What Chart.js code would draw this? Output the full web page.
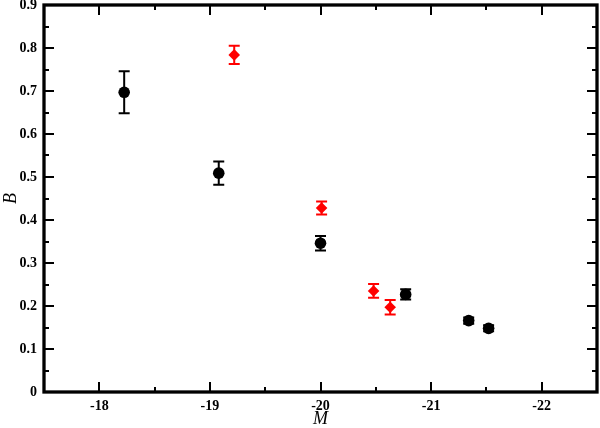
<!DOCTYPE html>
<html>
<head>
<meta charset="utf-8">
<script src="https://cdn.jsdelivr.net/npm/chart.js@4/dist/chart.umd.min.js"></script>
<style>
  html, body { margin: 0; padding: 0; background: #fff; }
  #wrap { width: 600px; height: 428px; }
</style>
</head>
<body>
<div id="wrap"><canvas id="c" width="600" height="428"></canvas></div>
<script>
// ---- Data ----
const blackM    = [-18.225, -19.08, -20.00, -20.77, -21.34, -21.52];
const blackB    = [0.697, 0.509, 0.346, 0.227, 0.166, 0.148];
const blackErr  = [0.049, 0.027, 0.017, 0.012, 0.007, 0.007];

const redM      = [-19.22, -20.01, -20.48, -20.63];
const redB      = [0.784, 0.428, 0.235, 0.197];
const redErr    = [0.021, 0.015, 0.016, 0.017];

const xTickValues = [-22, -21, -20, -19, -18];
const xTickLabels = ['-22', '-21', '-20', '-19', '-18'];
const xMinorValues = [-22.5, -21.5, -20.5, -19.5, -18.5, -17.5];
const yTickValues = [0, 0.1, 0.2, 0.3, 0.4, 0.5, 0.6, 0.7, 0.8, 0.9];
const yTickLabels = ['0', '0.1', '0.2', '0.3', '0.4', '0.5', '0.6', '0.7', '0.8', '0.9'];
const yMinorValues = [0.05, 0.15, 0.25, 0.35, 0.45, 0.55, 0.65, 0.75, 0.85];

const toPts = (xs, ys, es) => xs.map((x, i) => ({ x: x, y: ys[i], e: es[i] }));

const tickFont = { family: '"Liberation Serif", "Times New Roman", serif', size: 14, weight: 'bold' };
const titleFont = { family: '"Liberation Serif", "Times New Roman", serif', size: 18, style: 'italic', lineHeight: 1 };

const errorBarPlugin = {
  id: 'errorBars',
  beforeDatasetsDraw(chart) {
    const ctx = chart.ctx;
    const xs = chart.scales.x, ys = chart.scales.y;
    chart.data.datasets.forEach((ds) => {
      ctx.save();
      ctx.strokeStyle = ds.borderColor;
      ctx.lineWidth = 2;
      ds.data.forEach((p) => {
        const px = xs.getPixelForValue(p.x);
        const top = ys.getPixelForValue(p.y + p.e);
        const bot = ys.getPixelForValue(p.y - p.e);
        const cap = 5.5;
        ctx.beginPath();
        ctx.moveTo(px, top); ctx.lineTo(px, bot);
        ctx.moveTo(px - cap, top); ctx.lineTo(px + cap, top);
        ctx.moveTo(px - cap, bot); ctx.lineTo(px + cap, bot);
        ctx.stroke();
      });
      ctx.restore();
    });
  }
};

const frameTicksPlugin = {
  id: 'frameTicks',
  afterDraw(chart) {
    const ctx = chart.ctx;
    const a = chart.chartArea;
    const xs = chart.scales.x, ys = chart.scales.y;
    ctx.save();
    ctx.strokeStyle = '#000';
    ctx.lineWidth = 2;
    ctx.beginPath();
    const major = 10, minor = 5;
    xTickValues.forEach(v => {
      const px = Math.round(xs.getPixelForValue(v));
      ctx.moveTo(px, a.bottom); ctx.lineTo(px, a.bottom - major);
      ctx.moveTo(px, a.top); ctx.lineTo(px, a.top + major);
    });
    xMinorValues.forEach(v => {
      const px = Math.round(xs.getPixelForValue(v));
      ctx.moveTo(px, a.bottom); ctx.lineTo(px, a.bottom - minor);
      ctx.moveTo(px, a.top); ctx.lineTo(px, a.top + minor);
    });
    yTickValues.forEach(v => {
      const py = Math.round(ys.getPixelForValue(v));
      ctx.moveTo(a.left, py); ctx.lineTo(a.left + major, py);
      ctx.moveTo(a.right, py); ctx.lineTo(a.right - major, py);
    });
    yMinorValues.forEach(v => {
      const py = Math.round(ys.getPixelForValue(v));
      ctx.moveTo(a.left, py); ctx.lineTo(a.left + minor, py);
      ctx.moveTo(a.right, py); ctx.lineTo(a.right - minor, py);
    });
    ctx.stroke();
    ctx.lineWidth = 3.3;
    ctx.strokeRect(a.left, a.top, a.right - a.left, a.bottom - a.top);
    ctx.restore();
  }
};

new Chart(document.getElementById('c'), {
  type: 'scatter',
  data: {
    datasets: [
      {
        label: 'black',
        data: toPts(blackM, blackB, blackErr),
        pointStyle: 'circle',
        pointRadius: 5.8,
        pointHoverRadius: 5.8,
        backgroundColor: '#000',
        borderColor: '#000',
        borderWidth: 0
      },
      {
        label: 'red',
        data: toPts(redM, redB, redErr),
        pointStyle: 'rectRot',
        pointRadius: 5.8,
        pointHoverRadius: 5.8,
        backgroundColor: '#ff0000',
        borderColor: '#ff0000',
        borderWidth: 0
      }
    ]
  },
  options: {
    responsive: false,
    animation: false,
    events: [],
    layout: { autoPadding: false, padding: { top: 5, right: 3, left: 0, bottom: 0 } },
    plugins: { legend: { display: false }, tooltip: { enabled: false } },
    scales: {
      x: {
        type: 'linear',
        reverse: true,
        min: -22.5,
        max: -17.5,
        afterBuildTicks(s) { s.ticks = xTickValues.map(v => ({ value: v })); },
        afterFit(s) { s.height = 36; s.paddingLeft = 0; s.paddingRight = 0; },
        grid: { display: false, drawTicks: false },
        border: { display: false },
        ticks: {
          color: '#000',
          font: tickFont,
          padding: 6,
          maxRotation: 0,
          autoSkip: false,
          callback: (v) => { const i = xTickValues.indexOf(v); return i >= 0 ? xTickLabels[i] : ''; }
        },
        title: { display: true, text: 'M', color: '#000', font: titleFont, padding: { top: 0, bottom: 0 } }
      },
      y: {
        type: 'linear',
        min: 0,
        max: 0.9,
        afterBuildTicks(s) { s.ticks = yTickValues.map(v => ({ value: v })); },
        afterFit(s) { s.width = 44; s.paddingTop = 0; s.paddingBottom = 0; },
        grid: { display: false, drawTicks: false },
        border: { display: false },
        ticks: {
          color: '#000',
          font: tickFont,
          padding: 7,
          autoSkip: false,
          callback: (v) => {
            const i = yTickValues.findIndex(t => Math.abs(t - v) < 1e-9);
            return i >= 0 ? yTickLabels[i] : '';
          }
        },
        title: { display: true, text: 'B', color: '#000', font: titleFont, padding: { top: 2, bottom: 0 } }
      }
    }
  },
  plugins: [errorBarPlugin, frameTicksPlugin]
});
</script>
</body>
</html>
